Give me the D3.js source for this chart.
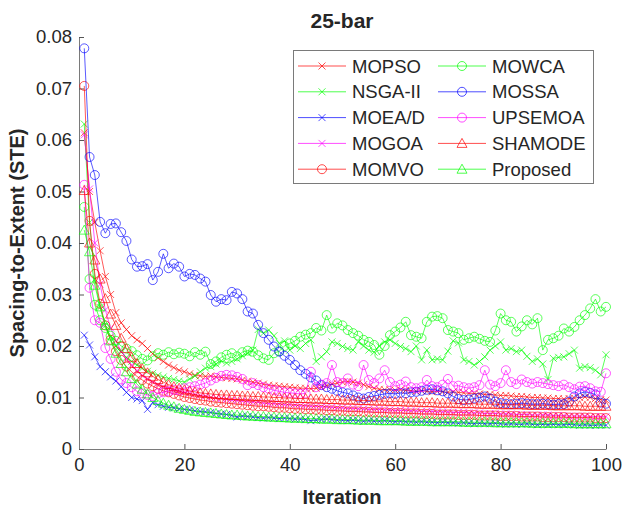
<!DOCTYPE html>
<html>
<head>
<meta charset="utf-8">
<script src="https://cdn.jsdelivr.net/npm/d3@7"></script>
<style>
  body { margin: 0; background: #fff; }
  text { font-family: "Liberation Sans", Arial, sans-serif; fill: #262626; }
</style>
</head>
<body>
<svg id="chart" width="624" height="509"></svg>
<script>
// values, iterations 1..100
const mopso = [0.0614,0.0500,0.0440,0.0385,0.0335,0.0300,0.0265,0.0245,0.0232,0.0220,
  0.0212,0.0205,0.0195,0.0185,0.0177,0.0170,0.0163,0.0158,0.0153,0.0150,
  0.0146,0.0143,0.0142,0.0141,0.0142,0.0140,0.0139,0.0138,0.0137,0.0136,
  0.0134,0.0132,0.0130,0.0128,0.0126,0.0124,0.0123,0.0122,0.0121,0.0120,
  0.0119,0.0118,0.0118,0.0117,0.0118,0.0120,0.0123,0.0126,0.0128,0.0130,
  0.0131,0.0130,0.0128,0.0125,0.0121,0.0118,0.0116,0.0115,0.0115,0.0114,
  0.0115,0.0114,0.0113,0.0112,0.0113,0.0112,0.0111,0.0112,0.0111,0.0110,
  0.0111,0.0110,0.0109,0.0108,0.0108,0.0107,0.0106,0.0106,0.0105,0.0104,
  0.0104,0.0103,0.0102,0.0102,0.0101,0.0100,0.0100,0.0099,0.0099,0.0098,
  0.0098,0.0097,0.0098,0.0099,0.0100,0.0101,0.0100,0.0098,0.0096,0.0095];

const nsga2 = [0.0631,0.0440,0.0330,0.0275,0.0240,0.0218,0.0200,0.0188,0.0178,0.0170,
  0.0163,0.0157,0.0151,0.0147,0.0143,0.0140,0.0137,0.0135,0.0132,0.0130,
  0.0136,0.0142,0.0150,0.0157,0.0160,0.0165,0.0171,0.0167,0.0170,0.0175,
  0.0181,0.0186,0.0192,0.0232,0.0225,0.0231,0.0220,0.0205,0.0210,0.0192,
  0.0200,0.0195,0.0205,0.0212,0.0170,0.0179,0.0189,0.0208,0.0205,0.0199,
  0.0195,0.0192,0.0208,0.0200,0.0192,0.0188,0.0200,0.0208,0.0212,0.0205,
  0.0199,0.0195,0.0189,0.0200,0.0173,0.0192,0.0173,0.0175,0.0173,0.0190,
  0.0210,0.0206,0.0173,0.0170,0.0163,0.0170,0.0179,0.0192,0.0200,0.0208,
  0.0192,0.0195,0.0189,0.0192,0.0180,0.0170,0.0175,0.0165,0.0135,0.0176,
  0.0178,0.0179,0.0185,0.0192,0.0157,0.0160,0.0158,0.0153,0.0144,0.0183];

const moead = [0.0221,0.0202,0.0179,0.0160,0.0150,0.0140,0.0132,0.0121,0.0110,0.0100,
  0.0097,0.0094,0.0077,0.0090,0.0086,0.0083,0.0081,0.0080,0.0078,0.0077,
  0.0076,0.0074,0.0073,0.0072,0.0071,0.0069,0.0068,0.0067,0.0065,0.0062,
  0.0064,0.0063,0.0062,0.0061,0.0060,0.0061,0.0060,0.0059,0.0060,0.0059,
  0.0058,0.0058,0.0057,0.0055,0.0056,0.0057,0.0058,0.0057,0.0056,0.0056,
  0.0055,0.0056,0.0055,0.0054,0.0055,0.0054,0.0054,0.0055,0.0054,0.0053,
  0.0054,0.0053,0.0053,0.0052,0.0053,0.0052,0.0052,0.0051,0.0052,0.0051,
  0.0051,0.0050,0.0051,0.0050,0.0049,0.0050,0.0049,0.0049,0.0050,0.0049,
  0.0048,0.0049,0.0048,0.0048,0.0049,0.0048,0.0047,0.0048,0.0047,0.0048,
  0.0047,0.0047,0.0048,0.0047,0.0046,0.0047,0.0046,0.0046,0.0047,0.0046];

const mogoa = [0.0610,0.0505,0.0400,0.0320,0.0270,0.0235,0.0210,0.0190,0.0175,0.0163,
  0.0152,0.0143,0.0136,0.0130,0.0125,0.0121,0.0118,0.0115,0.0112,0.0110,
  0.0108,0.0106,0.0104,0.0103,0.0100,0.0099,0.0098,0.0096,0.0095,0.0094,
  0.0093,0.0092,0.0091,0.0091,0.0089,0.0088,0.0088,0.0087,0.0086,0.0086,
  0.0085,0.0084,0.0084,0.0083,0.0083,0.0082,0.0082,0.0081,0.0080,0.0080,
  0.0079,0.0079,0.0078,0.0078,0.0077,0.0077,0.0077,0.0076,0.0076,0.0075,
  0.0075,0.0075,0.0074,0.0074,0.0073,0.0073,0.0073,0.0072,0.0072,0.0072,
  0.0071,0.0071,0.0071,0.0070,0.0070,0.0070,0.0069,0.0069,0.0069,0.0068,
  0.0068,0.0068,0.0067,0.0067,0.0067,0.0066,0.0066,0.0066,0.0066,0.0065,
  0.0065,0.0065,0.0064,0.0064,0.0064,0.0064,0.0063,0.0063,0.0063,0.0063];

const momvo = [0.0705,0.0443,0.0340,0.0282,0.0240,0.0212,0.0190,0.0173,0.0160,0.0150,
  0.0141,0.0134,0.0127,0.0122,0.0117,0.0113,0.0110,0.0107,0.0104,0.0101,
  0.0099,0.0097,0.0095,0.0094,0.0092,0.0091,0.0090,0.0089,0.0088,0.0087,
  0.0086,0.0085,0.0084,0.0083,0.0083,0.0082,0.0081,0.0080,0.0080,0.0079,
  0.0078,0.0078,0.0077,0.0077,0.0076,0.0076,0.0075,0.0075,0.0074,0.0074,
  0.0073,0.0073,0.0073,0.0072,0.0072,0.0071,0.0071,0.0071,0.0070,0.0070,
  0.0070,0.0069,0.0069,0.0069,0.0068,0.0068,0.0068,0.0067,0.0067,0.0067,
  0.0067,0.0066,0.0066,0.0066,0.0066,0.0065,0.0065,0.0065,0.0065,0.0064,
  0.0064,0.0064,0.0064,0.0063,0.0063,0.0063,0.0063,0.0062,0.0062,0.0062,
  0.0062,0.0062,0.0061,0.0061,0.0061,0.0061,0.0061,0.0060,0.0060,0.0060];

const mowca = [0.0470,0.0330,0.0280,0.0250,0.0235,0.0220,0.0210,0.0200,0.0195,0.0190,
  0.0182,0.0175,0.0172,0.0180,0.0186,0.0183,0.0188,0.0184,0.0187,0.0185,
  0.0180,0.0188,0.0183,0.0189,0.0165,0.0170,0.0178,0.0183,0.0186,0.0180,
  0.0188,0.0191,0.0189,0.0182,0.0176,0.0173,0.0186,0.0190,0.0200,0.0205,
  0.0210,0.0218,0.0222,0.0225,0.0235,0.0230,0.0260,0.0234,0.0244,0.0240,
  0.0231,0.0225,0.0220,0.0212,0.0208,0.0202,0.0183,0.0200,0.0221,0.0228,
  0.0236,0.0247,0.0221,0.0218,0.0215,0.0247,0.0257,0.0258,0.0254,0.0231,
  0.0228,0.0225,0.0212,0.0215,0.0218,0.0214,0.0210,0.0208,0.0230,0.0263,
  0.0250,0.0247,0.0228,0.0238,0.0250,0.0242,0.0254,0.0192,0.0212,0.0215,
  0.0220,0.0234,0.0228,0.0237,0.0250,0.0260,0.0273,0.0291,0.0267,0.0276];

const mossa = [0.0778,0.0567,0.0532,0.0441,0.0419,0.0437,0.0438,0.0421,0.0404,0.0368,
  0.0354,0.0355,0.0359,0.0328,0.0344,0.0379,0.0351,0.0360,0.0354,0.0335,
  0.0340,0.0338,0.0331,0.0325,0.0299,0.0286,0.0291,0.0289,0.0305,0.0302,
  0.0291,0.0267,0.0263,0.0241,0.0225,0.0212,0.0199,0.0189,0.0181,0.0173,
  0.0163,0.0153,0.0146,0.0139,0.0133,0.0124,0.0120,0.0117,0.0113,0.0110,
  0.0108,0.0104,0.0100,0.0098,0.0101,0.0103,0.0105,0.0107,0.0108,0.0107,
  0.0109,0.0108,0.0110,0.0111,0.0113,0.0115,0.0116,0.0114,0.0112,0.0108,
  0.0102,0.0097,0.0095,0.0096,0.0098,0.0100,0.0102,0.0098,0.0092,0.0089,
  0.0088,0.0087,0.0088,0.0089,0.0088,0.0087,0.0087,0.0088,0.0087,0.0086,
  0.0087,0.0087,0.0092,0.0102,0.0108,0.0111,0.0109,0.0106,0.0090,0.0088];

const upsemoa = [0.0513,0.0313,0.0250,0.0245,0.0196,0.0175,0.0150,0.0135,0.0128,0.0120,
  0.0112,0.0108,0.0105,0.0103,0.0108,0.0110,0.0112,0.0115,0.0114,0.0118,
  0.0120,0.0122,0.0125,0.0128,0.0133,0.0138,0.0142,0.0144,0.0143,0.0140,
  0.0136,0.0124,0.0128,0.0124,0.0120,0.0117,0.0114,0.0112,0.0110,0.0109,
  0.0108,0.0107,0.0108,0.0150,0.0120,0.0125,0.0128,0.0163,0.0130,0.0128,
  0.0137,0.0125,0.0122,0.0163,0.0134,0.0128,0.0137,0.0153,0.0130,0.0122,
  0.0125,0.0131,0.0120,0.0118,0.0120,0.0134,0.0122,0.0120,0.0125,0.0136,
  0.0122,0.0123,0.0120,0.0118,0.0120,0.0124,0.0153,0.0125,0.0122,0.0128,
  0.0153,0.0130,0.0126,0.0135,0.0130,0.0127,0.0130,0.0128,0.0126,0.0124,
  0.0122,0.0125,0.0120,0.0116,0.0121,0.0122,0.0118,0.0112,0.0111,0.0147];

const shamode = [0.0502,0.0400,0.0367,0.0330,0.0292,0.0262,0.0240,0.0215,0.0195,0.0178,
  0.0166,0.0156,0.0148,0.0141,0.0135,0.0130,0.0125,0.0121,0.0118,0.0115,
  0.0113,0.0111,0.0109,0.0108,0.0107,0.0106,0.0105,0.0105,0.0104,0.0104,
  0.0103,0.0103,0.0102,0.0102,0.0101,0.0101,0.0100,0.0100,0.0099,0.0099,
  0.0098,0.0098,0.0098,0.0097,0.0097,0.0097,0.0096,0.0096,0.0096,0.0095,
  0.0095,0.0095,0.0094,0.0094,0.0094,0.0093,0.0093,0.0093,0.0092,0.0092,
  0.0092,0.0091,0.0091,0.0091,0.0090,0.0090,0.0090,0.0089,0.0089,0.0089,
  0.0089,0.0088,0.0088,0.0088,0.0088,0.0087,0.0087,0.0087,0.0087,0.0086,
  0.0086,0.0086,0.0086,0.0086,0.0085,0.0085,0.0085,0.0085,0.0085,0.0084,
  0.0084,0.0084,0.0084,0.0084,0.0084,0.0083,0.0083,0.0083,0.0083,0.0083];

const proposed = [0.0425,0.0383,0.0318,0.0276,0.0240,0.0210,0.0186,0.0166,0.0150,0.0137,
  0.0126,0.0116,0.0107,0.0100,0.0094,0.0089,0.0085,0.0082,0.0079,0.0077,
  0.0075,0.0073,0.0072,0.0071,0.0070,0.0069,0.0068,0.0067,0.0066,0.0066,
  0.0065,0.0064,0.0064,0.0063,0.0063,0.0062,0.0062,0.0061,0.0061,0.0060,
  0.0060,0.0060,0.0059,0.0059,0.0059,0.0058,0.0058,0.0058,0.0057,0.0057,
  0.0057,0.0057,0.0056,0.0056,0.0056,0.0056,0.0055,0.0055,0.0055,0.0055,
  0.0055,0.0054,0.0054,0.0054,0.0054,0.0054,0.0053,0.0053,0.0053,0.0053,
  0.0053,0.0053,0.0052,0.0052,0.0052,0.0052,0.0052,0.0052,0.0051,0.0051,
  0.0051,0.0051,0.0051,0.0051,0.0051,0.0050,0.0050,0.0050,0.0050,0.0050,
  0.0050,0.0050,0.0050,0.0049,0.0049,0.0049,0.0049,0.0049,0.0049,0.0049];

const names = ["MOPSO", "NSGA-II", "MOEA/D", "MOGOA", "MOMVO",
  "MOWCA", "MOSSA", "UPSEMOA", "SHAMODE", "Proposed"];
const xTicks = [0, 20, 40, 60, 80, 100];
const yTicks = [0, 0.01, 0.02, 0.03, 0.04, 0.05, 0.06, 0.07, 0.08];

const series = [
  {name: names[0], values: mopso, color: "#ff0000", marker: "x"},
  {name: names[1], values: nsga2, color: "#00ff00", marker: "x"},
  {name: names[2], values: moead, color: "#0000ff", marker: "x"},
  {name: names[3], values: mogoa, color: "#ff00ff", marker: "x"},
  {name: names[4], values: momvo, color: "#ff0000", marker: "o"},
  {name: names[5], values: mowca, color: "#00ff00", marker: "o"},
  {name: names[6], values: mossa, color: "#0000ff", marker: "o"},
  {name: names[7], values: upsemoa, color: "#ff00ff", marker: "o"},
  {name: names[8], values: shamode, color: "#ff0000", marker: "^"},
  {name: names[9], values: proposed, color: "#00ff00", marker: "^"}
];

const svg = d3.select("#chart");
const x = d3.scaleLinear([0, 100], [79, 606]);
const y = d3.scaleLinear([0, 0.08], [449, 37]);

// markers as paths centred on 0,0
function markerPath(m) {
  if (m == "x") return "M-3.5,-3.5L3.5,3.5M-3.5,3.5L3.5,-3.5";
  if (m == "o") return "M4.5,0A4.5,4.5 0 1,1 -4.5,0A4.5,4.5 0 1,1 4.5,0Z";
  return "M0,-5L5,4L-5,4Z";
}

// axes
const gx = svg.append("g").attr("transform", "translate(0,449)")
  .call(d3.axisBottom(x).tickValues(xTicks).tickSize(-5).tickSizeOuter(0).tickPadding(9));
const gy = svg.append("g").attr("transform", "translate(79,0)")
  .call(d3.axisLeft(y).tickValues(yTicks).tickSize(-5).tickSizeOuter(0).tickPadding(7)
    .tickFormat(d => d == 0 ? "0" : d3.format(".2f")(d)));
[gx, gy].forEach(g => {
  g.select(".domain").attr("stroke", "#7a7a7a");
  g.selectAll(".tick line").attr("stroke", "#555");
  g.selectAll(".tick text").attr("font-size", 18.5).attr("fill", "#262626")
    .attr("font-family", "Liberation Sans, Arial, sans-serif");
});
gx.selectAll(".tick").filter(d => d == 0).select("line").remove();

// lines and markers
const line = d3.line().x((d, i) => x(i + 1)).y(d => y(d));
const plot = svg.append("g");
series.forEach(s => {
  const g = plot.append("g");
  g.append("path").attr("d", line(s.values))
    .attr("fill", "none").attr("stroke", s.color).attr("stroke-width", 0.65);
  g.selectAll("path.m").data(s.values).join("path").attr("class", "m")
    .attr("d", markerPath(s.marker))
    .attr("transform", (d, i) => `translate(${x(i + 1)},${y(d)})`)
    .attr("fill", "none").attr("stroke", s.color).attr("stroke-width", 0.65);
});

// title and labels
svg.append("text").attr("x", 342).attr("y", 28).attr("text-anchor", "middle")
  .attr("font-size", 21).attr("font-weight", "bold").attr("fill", "#000").text("25-bar");
svg.append("text").attr("x", 342).attr("y", 504).attr("text-anchor", "middle")
  .attr("font-size", 20).attr("font-weight", "bold").text("Iteration");
svg.append("text").attr("transform", "translate(24,243) rotate(-90)")
  .attr("text-anchor", "middle").attr("font-size", 20).attr("font-weight", "bold")
  .text("Spacing-to-Extent (STE)");

// legend
const leg = svg.append("g");
leg.append("rect").attr("x", 293.5).attr("y", 50.5).attr("width", 300).attr("height", 133)
  .attr("fill", "#fff").attr("stroke", "#7a7a7a").attr("stroke-width", 1);
series.forEach((s, i) => {
  const col = Math.floor(i / 5), row = i % 5;
  const x0 = 298 + col * 140, yy = 66 + row * 25.8;
  const g = leg.append("g");
  g.append("line").attr("x1", x0).attr("x2", x0 + 48).attr("y1", yy).attr("y2", yy)
    .attr("stroke", s.color).attr("stroke-width", 0.7);
  g.append("path").attr("d", markerPath(s.marker))
    .attr("transform", `translate(${x0 + 24},${yy})`)
    .attr("fill", "none").attr("stroke", s.color).attr("stroke-width", 0.7);
  g.append("text").attr("x", x0 + 54).attr("y", yy + 6.5)
    .attr("font-size", 18.5).attr("fill", "#000").text(s.name);
});
</script>
</body>
</html>
